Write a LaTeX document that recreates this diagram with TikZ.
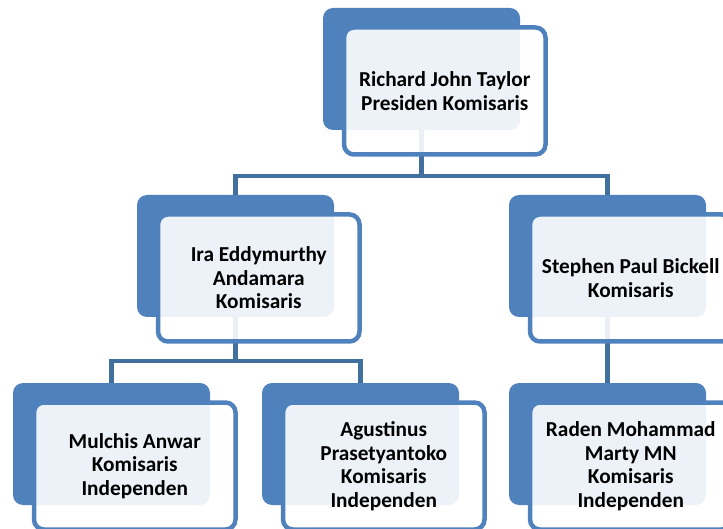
\documentclass[tikz,border=0pt]{standalone}
\usepackage{fontspec}
\setmainfont{Carlito}
\definecolor{accent}{HTML}{4F81BD}
\definecolor{connblue}{HTML}{41709E}
\begin{document}
\begin{tikzpicture}[x=1pt,y=-1pt,
  backbox/.style={fill=accent, draw=none, rounded corners=10pt, minimum width=197pt, minimum height=122pt, inner sep=0pt, outer sep=0pt},
  frontbox/.style={draw=accent, line width=4.5pt, fill=white, fill opacity=0.9, draw opacity=1, text opacity=1, rounded corners=10pt, minimum width=201.5pt, minimum height=127pt, inner sep=0pt, outer sep=0pt, align=center, font=\fontsize{21.3pt}{23.5pt}\selectfont\bfseries},
  conn/.style={draw=connblue, line width=4.5pt}]
\useasboundingbox (0,0) rectangle (723,529);
\clip (0,0) rectangle (723,529);
% back boxes
\node[backbox] (b1) at (421.5,69) {};
\node[backbox] (b2) at (235.5,256) {};
\node[backbox] (b3) at (607.5,256) {};
\node[backbox] (b4) at (111.5,444) {};
\node[backbox] (b5) at (360.5,444) {};
\node[backbox] (b6) at (607.5,444) {};
% connectors
\draw[conn] (b1.south) -- ++(0,46) -| (b2.north);
\draw[conn] (b1.south) -- ++(0,46) -| (b3.north);
\draw[conn] (b2.south) -- ++(0,44) -| (b4.north);
\draw[conn] (b2.south) -- ++(0,44) -| (b5.north);
\draw[conn] (b3.south) -- (b6.north);
% front boxes with text
\node[frontbox] (f1) at (444.75,91) {Richard John Taylor\\Presiden Komisaris};
\node[frontbox] (f2) at (258.75,278) {Ira Eddymurthy\\Andamara\\Komisaris};
\node[frontbox] (f3) at (630.75,278) {Stephen Paul Bickell\\Komisaris};
\node[frontbox] (f4) at (134.75,466) {Mulchis Anwar\\Komisaris\\Independen};
\node[frontbox] (f5) at (383.75,466) {Agustinus\\Prasetyantoko\\Komisaris\\Independen};
\node[frontbox] (f6) at (630.75,466) {Raden Mohammad\\Marty MN\\Komisaris\\Independen};
\end{tikzpicture}
\end{document}
